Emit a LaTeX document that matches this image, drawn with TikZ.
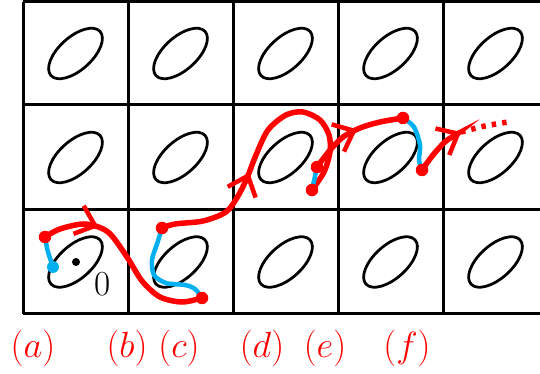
\documentclass[tikz,border=0pt]{standalone}
\usetikzlibrary{arrows.meta, decorations.markings}
\definecolor{trajred}{RGB}{255,0,0}
\definecolor{jumpblue}{RGB}{0,176,240}

\begin{document}
\begin{tikzpicture}[
  x=0.02cm, y=-0.02cm,
  font=\fontsize{20}{24}\selectfont,
  gridline/.style={draw=black, line width=0.06cm},
  orbit/.style={draw=black, line width=0.055cm},
  traj/.style={draw=trajred, line width=0.11cm},
  jump/.style={draw=jumpblue, line width=0.09cm},
  dot/.style={circle, fill=trajred, inner sep=0pt, minimum size=0.25cm},
  bdot/.style={circle, fill=jumpblue, inner sep=0pt, minimum size=0.24cm},
  tag/.style={text=trajred, inner sep=0pt},
  barb/.tip={Straight Barb[length=10pt,width=17pt,line width=0.09cm]},
  midarrow/.style={postaction={decorate}, decoration={markings,
    mark=at position #1 with {\arrow{barb}}}}
]
  \useasboundingbox (0,0) rectangle (540,374);

  % grid of cells
  \foreach \gx in {23,128,233,338,443}
    \draw[gridline] (\gx,2) -- (\gx,314);
  \foreach \gy in {2,105,210,314}
    \draw[gridline] (23,\gy) -- (540,\gy);

  % one level set per cell
  \foreach \cx in {75.5,180.5,285.5,390.5,495.5}
    \foreach \cy in {53.5,157.5,262}
      \draw[orbit, rotate around={42:(\cx,\cy)}] (\cx,\cy) ellipse (33 and 16.5);

  % jump points
  \coordinate (a1) at (45,237);
  \coordinate (a2) at (53,267);
  \coordinate (b1) at (202,298);
  \coordinate (c1) at (162,228);
  \coordinate (d1) at (312,190);
  \coordinate (e1) at (317,167);
  \coordinate (e2) at (403,118);
  \coordinate (f1) at (422,170);
  \coordinate (f2) at (461,132);

  % flows
  \draw[traj, midarrow=0.29] plot[smooth] coordinates {(a1) (60,229) (85,224) (108,232) (127,257) (142,281) (160,297) (182,302) (b1)};
  \draw[traj, midarrow=0.38] plot[smooth] coordinates {(c1) (175,224) (203,221) (226,212) (238,196) (247,178) (256,155) (268,130) (286,115) (303,112) (320,120) (329,135) (330,152) (324,172) (d1)};
  \draw[traj, midarrow=0.54] plot[smooth] coordinates {(e1) (323,159) (331,149) (343,137) (360,128) (380,122) (e2)};
  \draw[traj, -barb] plot[smooth] coordinates {(f1) (433,155) (446,141) (f2)};
  \draw[traj, dash pattern=on 2.5pt off 3.5pt] plot[smooth] coordinates {(f2) (485,126) (508,122)};

  % jumps
  \draw[jump] plot[smooth] coordinates {(a1) (48,252) (a2)};
  \draw[jump] plot[smooth] coordinates {(b1) (195,289) (185,285) (166,283) (154,275) (152,260) (157,244) (c1)};
  \draw[jump] (d1) -- (e1);
  \draw[jump] plot[smooth] coordinates {(e2) (414,127) (420,145) (419,160) (f1)};

  \node[dot] at (a1) {};
  \node[bdot] at (a2) {};
  \node[dot] at (b1) {};
  \node[dot] at (c1) {};
  \node[dot] at (d1) {};
  \node[dot] at (e1) {};
  \node[dot] at (e2) {};
  \node[dot] at (f1) {};

  % equilibrium
  \fill (76,262) circle (4);
  \node (zero) at (103,284) {0};

  % labels
  \node[tag] (la) at (33,348) {$(a)$};
  \node[tag] (lb) at (127,348) {$(b)$};
  \node[tag] (lc) at (179,348) {$(c)$};
  \node[tag] (ld) at (262,348) {$(d)$};
  \node[tag] (le) at (325,348) {$(e)$};
  \node[tag] (lf) at (407,348) {$(f)$};
\end{tikzpicture}
\end{document}
